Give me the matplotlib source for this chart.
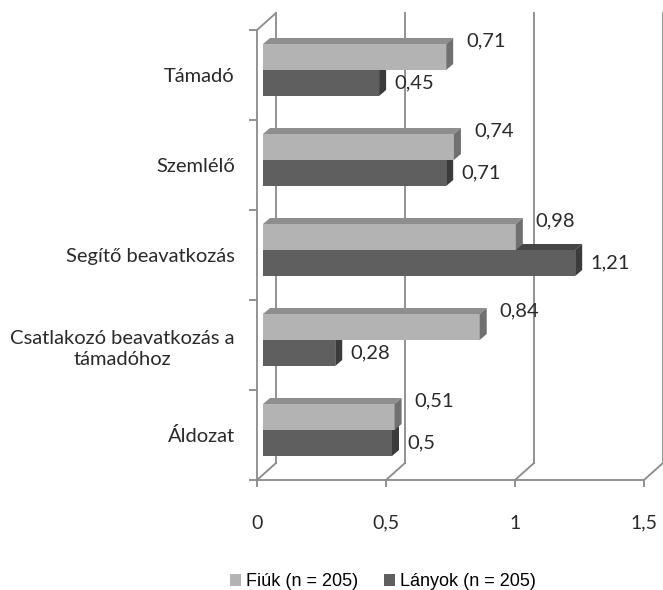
import numpy as np
import matplotlib.pyplot as plt
from matplotlib.patches import Polygon
from matplotlib.transforms import ScaledTranslation

kategoriak = ['Támadó', 'Szemlélő', 'Segítő beavatkozás',
              'Csatlakozó beavatkozás a\ntámadóhoz', 'Áldozat']
fiuk = [0.71, 0.74, 0.98, 0.84, 0.51]
lanyok = [0.45, 0.71, 1.21, 0.28, 0.50]
x_tickek = [0, 0.5, 1, 1.5]
x_feliratok = ['0', '0,5', '1', '1,5']
legenda = ['Fiúk (n = 205)', 'Lányok (n = 205)']

DPI = 100
W, H = 663, 590
# plot box in pixels
x0_px, x1_px = 257, 644
ytop_px, ybot_px = 30, 480
ux = (x1_px - x0_px) / 1.5      # px per x unit
uy = (ybot_px - ytop_px) / 5     # px per category

mely = (19, 17)      # depth of the 3d box (px)
bar_eltol = (6, 5)   # bars sit a bit inside the box
bar_mely = (7, 6)    # depth of a bar
bar_h = 26 / uy

szurke = '#8a8a8a'
szoveg = '#2a2a2a'
szinek = {'fiuk': ('#b3b3b3', '#8e8e8e', '#707070'),
          'lanyok': ('#5f5f5f', '#464646', '#3b3b3b')}

plt.rcParams['font.family'] = ['Lato', 'DejaVu Sans']

fig = plt.figure(figsize=(W / DPI, H / DPI), dpi=DPI)
ax = fig.add_axes([x0_px / W, 1 - ybot_px / H,
                   (x1_px - x0_px) / W, (ybot_px - ytop_px) / H])
ax.set_xlim(0, 1.5)
ax.set_ylim(-0.5, 4.5)

ypos = np.arange(len(kategoriak))[::-1]
dx, dy = mely[0] / ux, mely[1] / uy

# back wall gridlines and floor diagonals
for t in x_tickek:
    ax.plot([t + dx, t + dx], [-0.5 + dy, 4.5 + dy], color=szurke, lw=1.3, clip_on=False, zorder=1)
    ax.plot([t, t + dx], [-0.5, -0.5 + dy], color=szurke, lw=1.3, clip_on=False, zorder=1)
ax.plot([0, dx], [4.5, 4.5 + dy], color=szurke, lw=1.3, clip_on=False, zorder=1)

eltolas = ScaledTranslation(bar_eltol[0] / DPI, bar_eltol[1] / DPI, fig.dpi_scale_trans)
bdx, bdy = bar_mely[0] / ux, bar_mely[1] / uy


def rajzol_bar(ertekek, also, szin_kulcs, label):
    elol, teto, oldal = szinek[szin_kulcs]
    bars = ax.barh(also, ertekek, height=bar_h, align='edge', color=elol,
                   label=label, zorder=3, transform=ax.transData + eltolas)
    for v, y in zip(ertekek, also):
        top = y + bar_h
        ax.add_patch(Polygon([(0, top), (v, top), (v + bdx, top + bdy), (bdx, top + bdy)],
                             closed=True, facecolor=teto, edgecolor='none', zorder=3,
                             transform=ax.transData + eltolas))
        ax.add_patch(Polygon([(v, y), (v + bdx, y + bdy), (v + bdx, top + bdy), (v, top)],
                             closed=True, facecolor=oldal, edgecolor='none', zorder=3,
                             transform=ax.transData + eltolas))
    return bars


b2 = rajzol_bar(lanyok, ypos - bar_h, 'lanyok', legenda[1])
b1 = rajzol_bar(fiuk, ypos, 'fiuk', legenda[0])

# value labels
for v, y in zip(fiuk, ypos):
    ax.annotate(f'{v:g}'.replace('.', ','), (v, y + bar_h / 2),
                xytext=(20 + bar_eltol[0], 16 + bar_eltol[1]),
                textcoords='offset pixels', ha='left', va='center', fontsize=14.5, color=szoveg)
for v, y in zip(lanyok, ypos):
    ax.annotate(f'{v:g}'.replace('.', ','), (v, y - bar_h / 2),
                xytext=(15 + bar_eltol[0], bar_eltol[1]),
                textcoords='offset pixels', ha='left', va='center', fontsize=14.5, color=szoveg)

# axes styling
for s in ['top', 'right']:
    ax.spines[s].set_visible(False)
for s in ['left', 'bottom']:
    ax.spines[s].set_color(szurke)
    ax.spines[s].set_linewidth(1.3)

ax.set_xticks(x_tickek)
ax.set_xticklabels(x_feliratok, fontsize=14, color=szoveg)
ax.tick_params(axis='x', direction='out', length=5, width=1.3, color=szurke, pad=20)

ax.set_yticks(ypos)
ax.set_yticklabels(kategoriak, fontsize=14.5, color=szoveg)
ax.tick_params(axis='y', which='major', length=0, pad=16)
ax.set_yticks(np.arange(-0.5, 5, 1), minor=True)
ax.tick_params(axis='y', which='minor', direction='out', length=6, width=1.3, color=szurke)
for lbl in ax.get_yticklabels():
    lbl.set_multialignment('center')
    lbl.set_linespacing(1.35)

fig.legend(handles=[b1, b2], labels=legenda, loc='center',
           bbox_to_anchor=(383 / W, 1 - 582 / H), ncol=2, frameon=False,
           prop={'family': 'Liberation Sans', 'size': 13},
           handlelength=0.6, handleheight=0.6, handletextpad=0.3, columnspacing=1.4)

fig.savefig('out.png', dpi=DPI)
